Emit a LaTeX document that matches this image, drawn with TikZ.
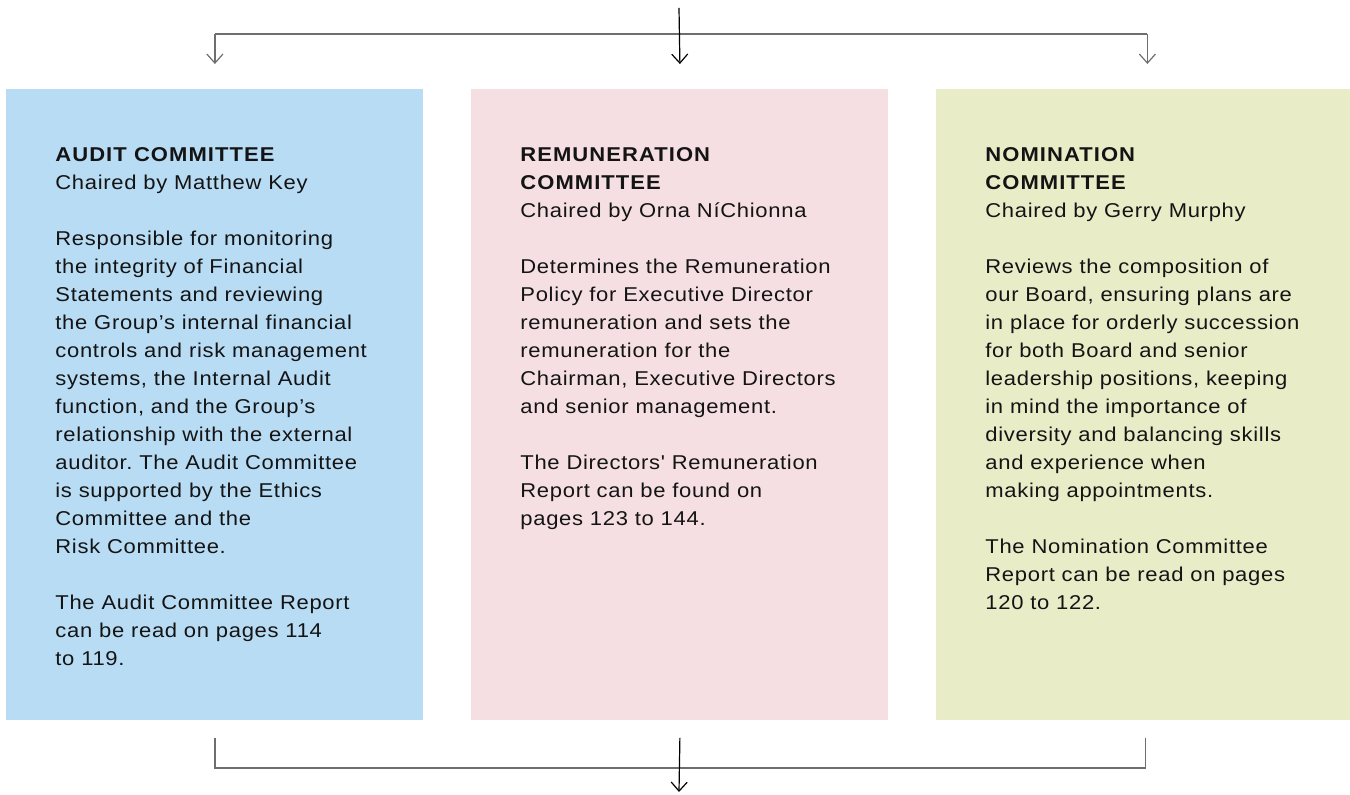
\documentclass[tikz,border=0pt]{standalone}
\usepackage{fontspec}
\setmainfont{Liberation Sans}[Ligatures=TeXOff, FakeStretch=1.1, LetterSpace=3.5, BoldFeatures={LetterSpace=5.3, FakeStretch=1.1}]
\usetikzlibrary{arrows.meta}
\definecolor{auditc}{HTML}{B8DCF4}
\definecolor{remc}{HTML}{F5DFE3}
\definecolor{nomc}{HTML}{E8EDC8}
\definecolor{linegray}{HTML}{6E6E6E}
\definecolor{txt}{HTML}{141414}
\frenchspacing
\tikzset{
  panel/.style={draw=none, inner sep=0pt, anchor=north west, minimum height=315.5pt},
  bodytext/.style={anchor=north west, inner sep=0pt, align=left, text=txt,
     font=\fontsize{10}{14}\selectfont},
  grayline/.style={draw=linegray, line width=0.6pt},
  blackline/.style={draw=black, line width=0.6pt},
  tipv/.style={-{Straight Barb[length=4.5pt,width=8pt]}}
}
\begin{document}
\begin{tikzpicture}[x=0.5pt,y=-0.5pt]
\useasboundingbox (0,0) rectangle (1350,795);
% panels
\node[panel, fill=auditc, minimum width=208.5pt] (audit) at (6,89) {};
\node[panel, fill=remc, minimum width=208.5pt] (remun) at (471,89) {};
\node[panel, fill=nomc, minimum width=211pt] (nomin) at (936,89) {};
% texts
\node[bodytext] (audittext) at (55,147) {\textbf{AUDIT COMMITTEE}\\
Chaired by Matthew Key\\[14pt]
Responsible for monitoring\\
the integrity of Financial\\
Statements and reviewing\\
the Group’s internal financial\\
controls and risk management\\
systems, the Internal Audit\\
function, and the Group’s\\
relationship with the external\\
auditor. The Audit Committee\\
is supported by the Ethics\\
Committee and the\\
Risk Committee.\\[14pt]
The Audit Committee Report\\
can be read on pages 114\\
to 119.};
\node[bodytext] (remtext) at (520,147) {\textbf{REMUNERATION}\\
\textbf{COMMITTEE}\\
Chaired by Orna NíChionna\\[14pt]
Determines the Remuneration\\
Policy for Executive Director\\
remuneration and sets the\\
remuneration for the\\
Chairman, Executive Directors\\
and senior management.\\[14pt]
The Directors' Remuneration\\
Report can be found on\\
pages 123 to 144.};
\node[bodytext] (nomtext) at (985,147) {\textbf{NOMINATION}\\
\textbf{COMMITTEE}\\
Chaired by Gerry Murphy\\[14pt]
Reviews the composition of\\
our Board, ensuring plans are\\
in place for orderly succession\\
for both Board and senior\\
leadership positions, keeping\\
in mind the importance of\\
diversity and balancing skills\\
and experience when\\
making appointments.\\[14pt]
The Nomination Committee\\
Report can be read on pages\\
120 to 122.};
% top connectors
\coordinate (src) at (679,8);
\coordinate (bar) at (679,34);
\draw[grayline] (audit.north |- bar) -- (nomin.north |- bar);
\draw[grayline, tipv] (audit.north |- bar) -- ([yshift=12.5pt]audit.north);
\draw[grayline, tipv] (nomin.north |- bar) -- ([yshift=12.5pt]nomin.north);
\draw[blackline, tipv] (src) -- ([yshift=12.5pt]remun.north);
% bottom connectors
\coordinate (bbar) at (679,768);
\coordinate (out) at (679,792);
\draw[grayline] ([yshift=-8.5pt]audit.south) -- (audit.south |- bbar) -- ([xshift=-1pt]nomin.south |- bbar) -- ([xshift=-1pt,yshift=-8.5pt]nomin.south);
\draw[blackline, tipv] ([yshift=-8.5pt]remun.south) -- (out);
\end{tikzpicture}
\end{document}
